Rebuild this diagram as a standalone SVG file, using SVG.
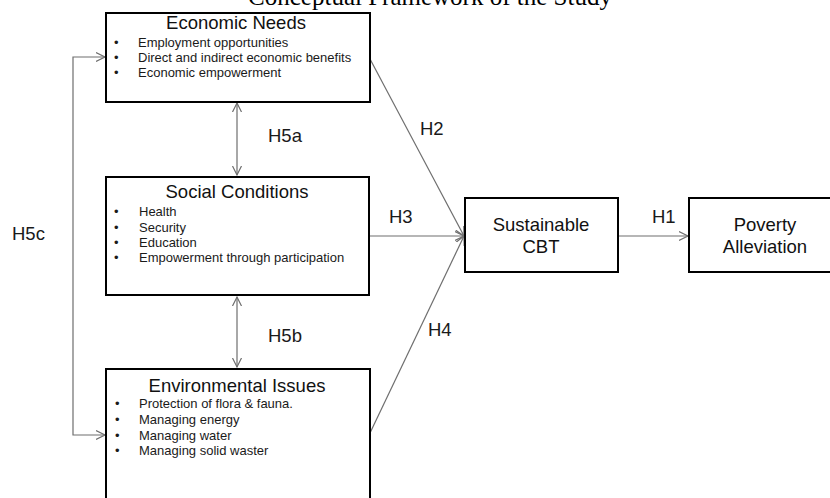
<svg xmlns="http://www.w3.org/2000/svg" width="830" height="498" viewBox="0 0 830 498">
<style>
.box{fill:#fff;stroke:#000;stroke-width:2}
.ttl{font-family:"Liberation Sans",Arial,sans-serif;font-size:18.5px;fill:#111;text-anchor:middle}
.bul{font-family:"Liberation Sans",Arial,sans-serif;font-size:13px;fill:#1a1a1a}
.lbl{font-family:"Liberation Sans",Arial,sans-serif;font-size:18.5px;fill:#1a1a1a}
.con{fill:none;stroke:#6e6e6e;stroke-width:1.2}
.head{font-family:"Liberation Serif","Times New Roman",serif;font-size:25px;fill:#000;text-anchor:middle}
</style>
<defs>
<marker id="arr" markerUnits="userSpaceOnUse" markerWidth="12" markerHeight="12" refX="9" refY="5" orient="auto-start-reverse" viewBox="0 0 12 10">
<path d="M0,0.5 L9,5 L0,9.5" fill="none" stroke="#6e6e6e" stroke-width="1.2"/>
</marker>
</defs>
<text class="head" x="430" y="5">Conceptual Framework of the Study</text>

<g id="connectors">
<path class="con" d="M105,57 H73 V435 H105" marker-start="url(#arr)" marker-end="url(#arr)"/>
<line class="con" x1="237" y1="103" x2="237" y2="175" marker-start="url(#arr)" marker-end="url(#arr)"/>
<line class="con" x1="237" y1="297" x2="237" y2="367" marker-start="url(#arr)" marker-end="url(#arr)"/>
<line class="con" x1="370" y1="59" x2="464" y2="236" marker-end="url(#arr)"/>
<line class="con" x1="369" y1="236" x2="464" y2="236" marker-end="url(#arr)"/>
<line class="con" x1="370" y1="433" x2="464" y2="236" marker-end="url(#arr)"/>
<line class="con" x1="618" y1="236" x2="688" y2="236" marker-end="url(#arr)"/>
<text class="lbl" x="12" y="240">H5c</text>
<text class="lbl" x="268" y="142">H5a</text>
<text class="lbl" x="268" y="342">H5b</text>
<text class="lbl" x="420" y="135">H2</text>
<text class="lbl" x="389" y="223">H3</text>
<text class="lbl" x="428" y="336">H4</text>
<text class="lbl" x="652" y="223">H1</text>
</g>

<g id="economic">
<rect class="box" x="106" y="13" width="264" height="89"/>
<text class="ttl" x="236" y="29">Economic Needs</text>
<g class="bul">
<text x="114" y="47">•</text><text x="138" y="47">Employment opportunities</text>
<text x="114" y="62">•</text><text x="138" y="62">Direct and indirect economic benefits</text>
<text x="114" y="77">•</text><text x="138" y="77">Economic empowerment</text>
</g>
</g>

<g id="social">
<rect class="box" x="106" y="177" width="263" height="118"/>
<text class="ttl" x="237" y="198">Social Conditions</text>
<g class="bul">
<text x="114" y="216">•</text><text x="139" y="216">Health</text>
<text x="114" y="232">•</text><text x="139" y="232">Security</text>
<text x="114" y="247">•</text><text x="139" y="247">Education</text>
<text x="114" y="262">•</text><text x="139" y="262">Empowerment through participation</text>
</g>
</g>

<g id="environmental">
<rect class="box" x="106" y="369" width="264" height="140"/>
<text class="ttl" x="237" y="392">Environmental Issues</text>
<g class="bul">
<text x="115" y="408">•</text><text x="139" y="408">Protection of flora &amp; fauna.</text>
<text x="115" y="424">•</text><text x="139" y="424">Managing energy</text>
<text x="115" y="440">•</text><text x="139" y="440">Managing water</text>
<text x="115" y="455">•</text><text x="139" y="455">Managing solid waster</text>
</g>
</g>

<g id="cbt">
<rect class="box" x="465" y="198" width="153" height="74"/>
<text class="ttl" x="541" y="231">Sustainable</text>
<text class="ttl" x="541" y="253">CBT</text>
</g>

<g id="poverty">
<rect class="box" x="689" y="198" width="160" height="74"/>
<text class="ttl" x="765" y="231">Poverty</text>
<text class="ttl" x="765" y="253">Alleviation</text>
</g>
</svg>
